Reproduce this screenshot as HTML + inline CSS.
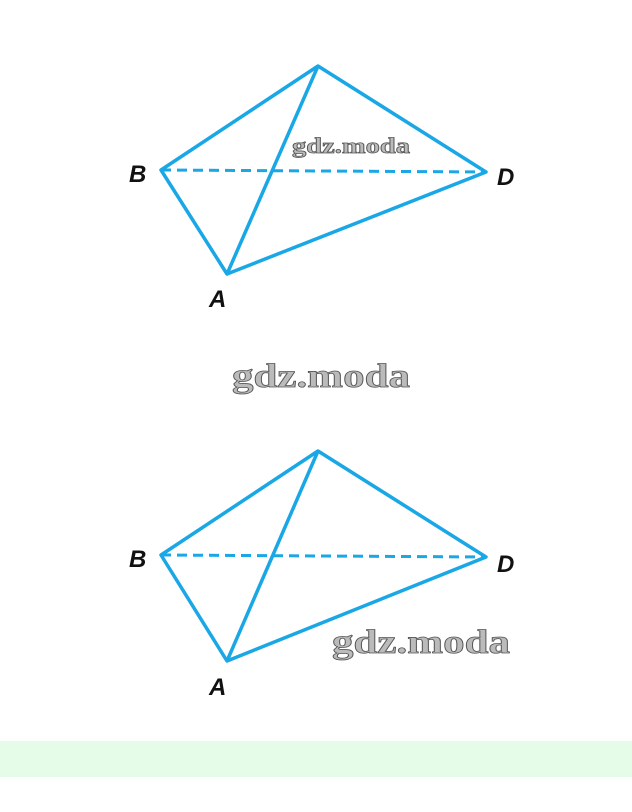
<!DOCTYPE html>
<html><head><meta charset="utf-8"><style>
html,body{margin:0;padding:0;background:#fff;width:632px;height:812px;overflow:hidden}
svg{display:block}
</style></head><body>
<svg width="632" height="812" viewBox="0 0 632 812" xmlns="http://www.w3.org/2000/svg">
<rect x="0" y="741" width="632" height="36" fill="#e4fce8"/>
<g stroke="#1aa7e6" stroke-width="3.5" fill="none" stroke-linejoin="round">
<path d="M161 170 L318 66 L486 172 L227 274 Z M318 66 L227 274"/>
<path d="M161 170 L486 172" stroke-dasharray="10 6" stroke-width="3"/>
<path d="M161 555 L318 451 L486 557 L227 661 Z M318 451 L227 661"/>
<path d="M161 555 L486 557" stroke-dasharray="10 6" stroke-width="3"/>
</g>
<g font-family="Liberation Sans, sans-serif" font-style="italic" font-weight="bold" font-size="24" fill="#111">
<text x="129" y="182">B</text>
<text x="497" y="185">D</text>
<text x="209" y="307">A</text>
<text x="129" y="567">B</text>
<text x="497" y="572">D</text>
<text x="209" y="695">A</text>
</g>
<g font-family="Liberation Serif, serif" font-weight="bold" fill="#bbb" stroke="#555" stroke-width="0.8">
<text x="292" y="153" font-size="22" textLength="118" lengthAdjust="spacingAndGlyphs">gdz.moda</text>
<text x="232" y="387" font-size="34" textLength="178" lengthAdjust="spacingAndGlyphs">gdz.moda</text>
<text x="332" y="653" font-size="34" textLength="178" lengthAdjust="spacingAndGlyphs">gdz.moda</text>
</g>
</svg>
</body></html>
